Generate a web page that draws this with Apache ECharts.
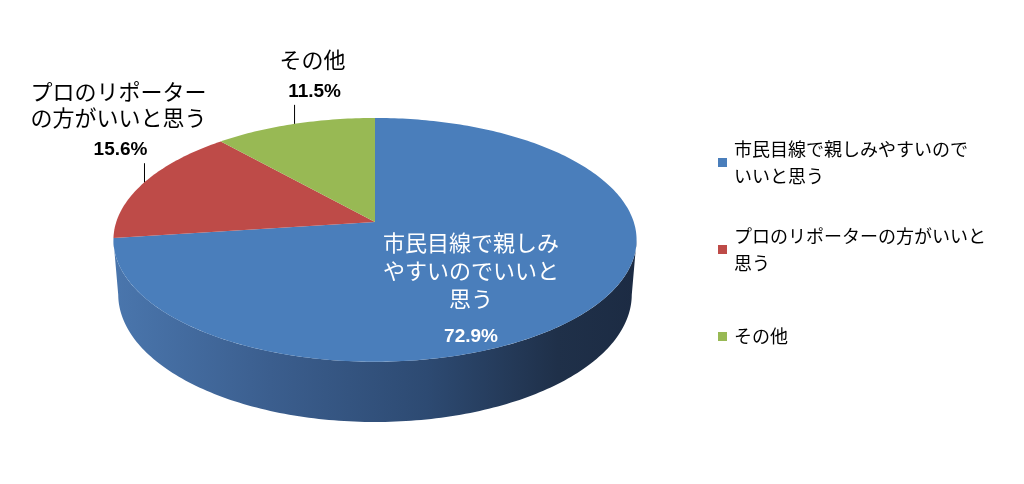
<!DOCTYPE html>
<html><head><meta charset="utf-8">
<script src="https://cdn.jsdelivr.net/npm/echarts@6/dist/echarts.min.js"></script>
<style>html,body{margin:0;padding:0;background:#fff}#c{width:1024px;height:484px}</style>
</head><body><div id="c"></div>
<script>
const categories = ['市民目線で親しみやすいのでいいと思う', 'プロのリポーターの方がいいと思う', 'その他'];
const values = [72.9, 15.6, 11.5];
const percentLabels = ['72.9%', '15.6%', '11.5%'];
const labelLines = [['市民目線で親しみ', 'やすいのでいいと', '思う'], ['プロのリポーター', 'の方がいいと思う'], ['その他']];
const legendLines = [['市民目線で親しみやすいので', 'いいと思う'], ['プロのリポーターの方がいいと', '思う'], ['その他']];
const colors = ['#4A7EBB', '#BE4B48', '#98B954'];

// projection of a tilted disc (perspective)
const CX = 375, CY = 222, F = 1568, L = 6.06, SE = 0.461, CE = 0.887, H = 0.24;
function proj(a, r, hgt) {
  const D = r * Math.cos(a), X = r * Math.sin(a);
  const up = D * SE + hgt * CE;
  const depth = L + D * CE - hgt * SE;
  return [CX + F * X / depth, CY - F * up / depth];
}
const total = values.reduce((s, v) => s + v, 0);
const starts = [];
{ let acc = 0; values.forEach(v => { starts.push(acc / total * Math.PI * 2); acc += v; }); }
const ends = values.map((v, i) => starts[i] + v / total * Math.PI * 2);
const frontR = Math.acos(-CE / L), frontL = Math.PI * 2 - frontR;

function arcPts(a1, a2, r, hgt) {
  const pts = []; const n = Math.max(2, Math.ceil((a2 - a1) / (Math.PI / 180)));
  for (let k = 0; k <= n; k++) pts.push(proj(a1 + (a2 - a1) * k / n, r, hgt));
  return pts;
}
const labelCfg = [
  { inside: true },
  { dx: -24 },
  { dx: 20 }
];
function renderSlice(i) {
  return function (params, api) {
    const a1 = starts[i], a2 = ends[i], mid = (a1 + a2) / 2;
    const children = [];
    const w1 = Math.max(a1, frontR), w2 = Math.min(a2, frontL);
    if (w2 > w1) {
      const top = arcPts(w1, w2, 1, 0), bot = arcPts(w1, w2, 1, -H).reverse();
      children.push({ type: 'polygon', shape: { points: top.concat(bot) },
        style: { fill: new echarts.graphic.LinearGradient(0, 0, 1, 0, [
          { offset: 0, color: '#4a76ad' }, { offset: 0.3, color: '#3b5e8e' },
          { offset: 0.6, color: '#2d4a72' }, { offset: 0.85, color: '#1f3049' }, { offset: 1, color: '#1c2b43' }]) } });
    }
    const topPts = [proj(0, 0, 0)].concat(arcPts(a1, a2, 1, 0));
    children.push({ type: 'polygon', shape: { points: topPts }, style: { fill: colors[i] } });
    const cfg = labelCfg[i];
    if (cfg.inside) {
      const p = proj(mid, 0.55, 0);
      const x = p[0] - 17;
      children.push({ type: 'text', style: { x: x, y: p[1] - 39, text: labelLines[i].join('\n'),
        fill: '#fff', font: '22px "Noto Sans CJK JP"', lineHeight: 28, align: 'center', verticalAlign: 'top' } });
      children.push({ type: 'text', style: { x: x, y: p[1] + 69, text: percentLabels[i],
        fill: '#fff', font: 'bold 19px "Liberation Sans"', align: 'center', verticalAlign: 'middle' } });
    } else {
      const p = proj(mid, 1, 0);
      const lineTop = p[1] - 19;
      children.push({ type: 'line', shape: { x1: p[0], y1: p[1], x2: p[0], y2: lineTop },
        style: { stroke: '#000', lineWidth: 1 } });
      const px = p[0] + cfg.dx, py = lineTop - 13.5;
      children.push({ type: 'text', style: { x: px, y: py, text: percentLabels[i],
        fill: '#000', font: 'bold 19px "Liberation Sans"', align: 'center', verticalAlign: 'middle' } });
      children.push({ type: 'text', style: { x: px - 2, y: py - 19, text: labelLines[i].join('\n'),
        fill: '#000', font: '22px "Noto Sans CJK JP"', lineHeight: 26, align: 'center', verticalAlign: 'bottom' } });
    }
    return { type: 'group', children: children };
  };
}
const chart = echarts.init(document.getElementById('c'), null, { renderer: 'canvas' });
chart.setOption({
  animation: false,
  backgroundColor: '#fff',
  legend: {
    orient: 'vertical', left: 713, top: 117, itemWidth: 9, itemHeight: 9, itemGap: 6, icon: 'rect',
    textStyle: { fontSize: 18, lineHeight: 27, color: '#000', fontFamily: 'Noto Sans CJK JP' },
    formatter: name => legendLines[categories.indexOf(name)].join('\n'),
    data: categories.map((c, i) => ({ name: c,
      textStyle: { padding: legendLines[i].length > 1 ? [27, 0, 0, 2] : [27, 0, 27, 2] } }))
  },
  series: categories.map((c, i) => ({
    type: 'custom', name: c, coordinateSystem: 'none', silent: true,
    itemStyle: { color: colors[i] },
    data: [[values[i]]],
    renderItem: renderSlice(i)
  }))
});
</script></body></html>
